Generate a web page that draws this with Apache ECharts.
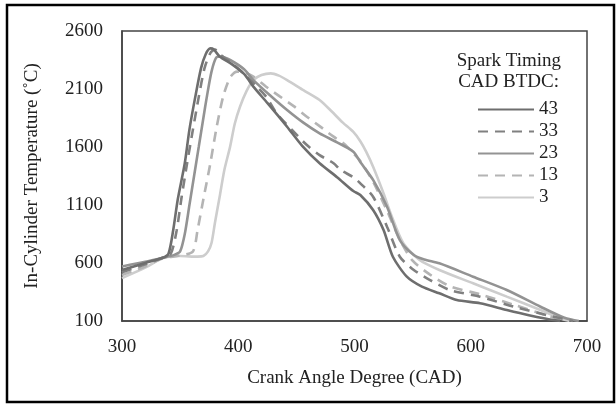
<!DOCTYPE html>
<html>
<head>
<meta charset="utf-8">
<script src="https://cdn.jsdelivr.net/npm/echarts@6/dist/echarts.min.js"></script>
<style>
html,body{margin:0;padding:0;background:#fff;}
#chart{width:616px;height:405px;}
</style>
</head>
<body>
<div id="chart"></div>
<script>
const seriesNames = ['43', '33', '23', '13', '3'];
const xTicks = [300, 400, 500, 600, 700];
const yTicks = [100, 600, 1100, 1600, 2100, 2600];

const st43 = [[300,540],[320,600],[335,645],[340,680],[344,880],[348,1150],[354,1460],[358,1750],[363,2030],[368,2280],[372,2400],[376,2450],[379,2440],[384,2380],[395,2310],[405,2230],[413,2120],[425,1980],[442,1775],[455,1610],[470,1460],[485,1340],[499,1220],[505,1186],[516,1057],[525,884],[533,654],[545,482],[558,396],[573,339],[588,281],[608,253],[631,195],[650,150],[665,120],[677,100]];
const st33 = [[300,520],[320,590],[335,645],[342,680],[347,880],[351,1150],[356,1460],[361,1750],[366,2030],[371,2280],[376,2410],[380,2440],[384,2400],[393,2335],[405,2230],[415,2130],[424,2034],[433,1890],[446,1750],[459,1617],[470,1530],[482,1460],[488,1402],[499,1340],[505,1287],[516,1171],[528,913],[539,654],[551,540],[565,453],[582,367],[608,310],[637,223],[665,152],[688,100]];
const st23 = [[300,570],[320,610],[335,645],[345,670],[350,700],[354,850],[358,1100],[362,1350],[366,1600],[370,1850],[373,2034],[377,2250],[381,2370],[385,2380],[393,2350],[405,2270],[413,2177],[428,2040],[442,1919],[456,1810],[470,1718],[485,1640],[499,1560],[505,1470],[516,1316],[528,1085],[539,798],[551,669],[560,630],[573,597],[602,482],[631,367],[660,223],[680,130],[693,100]];
const st13 = [[300,497],[320,570],[335,640],[350,665],[361,700],[365,884],[370,1150],[376,1460],[381,1750],[387,2034],[393,2200],[399,2250],[406,2240],[413,2206],[424,2120],[436,2034],[448,1950],[459,1861],[470,1780],[482,1689],[492,1620],[499,1545],[505,1480],[516,1300],[528,1050],[539,800],[550,620],[565,500],[582,400],[608,330],[637,240],[665,150],[682,100]];
const st3 = [[300,470],[320,560],[335,640],[350,660],[365,655],[370,660],[374,700],[377,772],[380,950],[384,1171],[388,1400],[393,1603],[397,1800],[401.5,1947],[407,2080],[413,2177],[420,2220],[428,2235],[435,2215],[442,2177],[456,2090],[470,2005],[480,1910],[490,1810],[499,1730],[505,1650],[510,1560],[516,1430],[525,1200],[531,1030],[542,770],[556,626],[573,540],[602,425],[631,310],[660,195],[678,120],[685,100]];

const seriesData = [st43, st33, st23, st13, st3];
const colors = ['#6e6e6e', '#808080', '#939393', '#b4b4b4', '#cdcdcd'];
const dashes = ['solid', [10, 7], 'solid', [10, 7], 'solid'];

const FONT = 'Liberation Serif';
const chart = echarts.init(document.getElementById('chart'), null, {renderer: 'canvas'});

chart.setOption({
  animation: false,
  backgroundColor: '#fff',
  grid: {left: 122, top: 31, right: 29, bottom: 84, show: true, borderColor: '#444', borderWidth: 1.5, backgroundColor: 'transparent'},
  xAxis: {
    type: 'value', min: xTicks[0], max: xTicks[xTicks.length - 1], interval: 100,
    name: 'Crank Angle Degree (CAD)', nameLocation: 'middle', nameGap: 48,
    nameTextStyle: {fontFamily: FONT, fontSize: 19, color: '#222'},
    axisLine: {show: true, lineStyle: {color: '#444', width: 1.5}},
    axisTick: {show: false}, splitLine: {show: false},
    axisLabel: {fontFamily: FONT, fontSize: 19, color: '#222', margin: 17, formatter: v => String(v)}
  },
  yAxis: {
    type: 'value', min: yTicks[0], max: yTicks[yTicks.length - 1], interval: 500,
    name: 'In-Cylinder Temperature (˚C)', nameLocation: 'middle', nameGap: 80,
    nameTextStyle: {fontFamily: FONT, fontSize: 19, color: '#222'},
    axisLine: {show: true, lineStyle: {color: '#444', width: 1.5}},
    axisTick: {show: false}, splitLine: {show: false},
    axisLabel: {fontFamily: FONT, fontSize: 19, color: '#222', margin: 19, formatter: v => String(v)}
  },
  legend: {
    orient: 'vertical', left: 472, top: 95,
    itemWidth: 56, itemHeight: 14, itemGap: 3,
    itemStyle: {opacity: 0},
    textStyle: {fontFamily: FONT, fontSize: 19, color: '#222'},
    data: seriesNames
  },
  graphic: [
    {type: 'rect', shape: {x: 7, y: 5, width: 607, height: 397}, style: {fill: 'none', stroke: '#000', lineWidth: 2.5}, silent: true},
    {type: 'text', right: 616 - 561, top: 52, style: {text: 'Spark Timing', font: '19px "Liberation Serif"', fill: '#222', textAlign: 'right'}},
    {type: 'text', right: 616 - 559, top: 73, style: {text: 'CAD BTDC:', font: '19px "Liberation Serif"', fill: '#222', textAlign: 'right'}}
  ],
  series: seriesNames.map((n, i) => ({
    name: n, type: 'line', data: seriesData[i], symbol: 'none', smooth: 0.25,
    color: colors[i],
    lineStyle: {color: colors[i], width: 2.6, type: dashes[i]},
    z: 10 - i
  }))
});
</script>
</body>
</html>
